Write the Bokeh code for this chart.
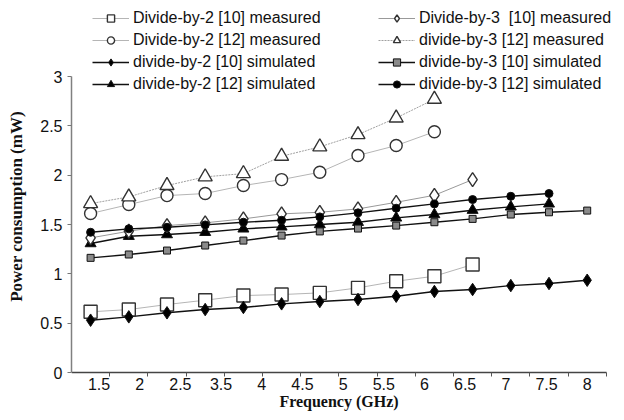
import numpy as np
from bokeh.plotting import figure
from bokeh.models import Range1d, FixedTicker, Legend, LegendItem
from bokeh.embed import file_html
from bokeh.resources import INLINE

# ---- data -------------------------------------------------------------
freq_labels = ["1.5", "2", "2.5", "3.5", "4", "4.5", "5", "5.5", "6", "6.5", "7", "7.5", "8"]
n_categories = 14
y_ticks = [0, 0.5, 1, 1.5, 2, 2.5, 3]
y_tick_labels = ["0", "0.5", "1", "1.5", "2", "2.5", "3"]

d2_10_measured = [0.615, 0.638, 0.689, 0.733, 0.78, 0.79, 0.807, 0.858, 0.925, 0.976, 1.094]
d2_12_measured = [1.611, 1.702, 1.793, 1.814, 1.895, 1.955, 2.03, 2.2, 2.30, 2.44]
d2_10_simulated = [0.53, 0.564, 0.605, 0.638, 0.659, 0.696, 0.719, 0.74, 0.773, 0.821, 0.841, 0.881, 0.902, 0.935]
d2_12_simulated = [1.307, 1.381, 1.398, 1.421, 1.456, 1.476, 1.5, 1.523, 1.567, 1.601, 1.645, 1.679, 1.709]
d3_10_measured = [1.364, 1.432, 1.489, 1.517, 1.557, 1.608, 1.624, 1.658, 1.725, 1.796, 1.955]
d3_12_measured = [1.712, 1.78, 1.895, 1.983, 2.016, 2.192, 2.287, 2.411, 2.58, 2.77]
d3_10_simulated = [1.162, 1.196, 1.236, 1.287, 1.337, 1.388, 1.43, 1.459, 1.489, 1.523, 1.557, 1.601, 1.624, 1.641]
d3_12_simulated = [1.421, 1.456, 1.472, 1.496, 1.523, 1.543, 1.577, 1.618, 1.665, 1.709, 1.753, 1.786, 1.814]

# ---- figure -----------------------------------------------------------
# the frame fills the figure (except the y-axis panel); the x axis sits at y = 0
p = figure(width=616, height=412, output_backend="svg", toolbar_location=None,
           x_range=Range1d(0, 14.267), y_range=Range1d(-0.4054, 3.7703),
           min_border_left=71, min_border_right=0, min_border_top=0, min_border_bottom=0)
p.grid.visible = False
p.outline_line_color = None
p.background_fill_color = "white"
p.border_fill_color = "white"

# x axis: category boundaries as ticks, labels spread along the axis
label_pos = list(np.linspace(0.72, 13.5, len(freq_labels)))
xa = p.xaxis[0]
xa.fixed_location = 0
xa.bounds = (0, n_categories)
xa.ticker = FixedTicker(ticks=label_pos, minor_ticks=list(range(1, n_categories + 1)))
xa.major_label_overrides = {float(v): t for v, t in zip(label_pos, freq_labels)}
xa.major_tick_line_color = None
xa.major_tick_out = 0
xa.major_tick_in = 0
xa.minor_tick_line_color = "#555555"
xa.minor_tick_out = 4
xa.minor_tick_in = 0
xa.axis_line_color = "#444444"
xa.axis_line_width = 1.5
xa.major_label_standoff = 1
xa.major_label_text_font = "Liberation Sans"
xa.major_label_text_font_size = "16px"
xa.major_label_text_color = "#111111"
xa.axis_label = "Frequency (GHz)"
xa.axis_label_text_font = "Liberation Serif"
xa.axis_label_text_font_style = "bold"
xa.axis_label_text_font_size = "16px"
xa.axis_label_text_color = "#111111"
xa.axis_label_standoff = 0

ya = p.yaxis[0]
ya.bounds = (0, 3)
ya.ticker = FixedTicker(ticks=y_ticks)
ya.major_label_overrides = {float(v): t for v, t in zip(y_ticks, y_tick_labels)}
ya.minor_tick_line_color = None
ya.major_tick_line_color = "#777777"
ya.major_tick_out = 4
ya.major_tick_in = 0
ya.axis_line_color = "#808080"
ya.axis_line_width = 1.5
ya.major_label_standoff = 5
ya.major_label_text_font = "Liberation Sans"
ya.major_label_text_font_size = "16px"
ya.major_label_text_color = "#111111"
ya.axis_label = "Power consumption (mW)"
ya.axis_label_text_font = "Liberation Serif"
ya.axis_label_text_font_style = "bold"
ya.axis_label_text_font_size = "17px"
ya.axis_label_text_color = "#111111"
ya.axis_label_standoff = 11

series = [
    # label, values, line color, line width, dash, marker, size, fill, kind
    ("Divide-by-2 [10] measured", d2_10_measured, "#b5b5b5", 1.0, "solid", "square", 13, "white", 1),
    ("Divide-by-2 [12] measured", d2_12_measured, "#b5b5b5", 1.0, "solid", "circle", 12, "white", 1),
    ("divide-by-2 [10] simulated", d2_10_simulated, "#111111", 1.4, "solid", "diamond", 12.5, "black", 2),
    ("divide-by-2 [12] simulated", d2_12_simulated, "#111111", 1.4, "solid", "triangle", 11, "black", 2),
    ("Divide-by-3  [10] measured", d3_10_measured, "#999999", 1.0, "solid", "diamond", 14, "white", 1),
    ("divide-by-3 [12] measured", d3_12_measured, "#a0a0a0", 1.0, "2 1", "triangle", 14, "white", 1),
    ("divide-by-3 [10] simulated", d3_10_simulated, "#111111", 1.4, "solid", "square", 7, "#8a8a8a", 2),
    ("divide-by-3 [12] simulated", d3_12_simulated, "#111111", 1.4, "solid", "circle", 8, "black", 2),
]

line_rs = []
for (label, vals, lc, lw, dash, mk, sz, fill, kind) in series:
    xs = np.arange(len(vals)) + 0.5
    line_rs.append(p.line(xs, vals, line_color=lc, line_width=lw, line_dash=dash))

leg_rs = []
for i, (label, vals, lc, lw, dash, mk, sz, fill, kind) in enumerate(series):
    xs = np.arange(len(vals)) + 0.5
    mlc = "#333333" if kind == 1 else "#111111"
    mr = p.scatter(xs, vals, marker=mk, size=sz, fill_color=fill, line_color=mlc,
                   line_width=1.4 if kind == 1 else 1.0)
    leg_rs.append((label, [line_rs[i], mr]))


def make_legend(items, loc):
    lg = Legend(items=[LegendItem(label=l, renderers=r) for l, r in items], location=loc)
    lg.label_text_font = "Liberation Sans"
    lg.label_text_font_size = "16px"
    lg.label_text_color = "#111111"
    lg.glyph_width = 37
    lg.glyph_height = 18
    lg.label_height = 21
    lg.spacing = 1
    lg.padding = 0
    lg.margin = 0
    lg.label_standoff = 4
    lg.border_line_color = None
    lg.background_fill_alpha = 0
    return lg


p.add_layout(make_legend(leg_rs[0:4], (21, 318)))
p.add_layout(make_legend(leg_rs[4:8], (307, 318)))

open("out.html", "w").write(file_html(p, INLINE))
